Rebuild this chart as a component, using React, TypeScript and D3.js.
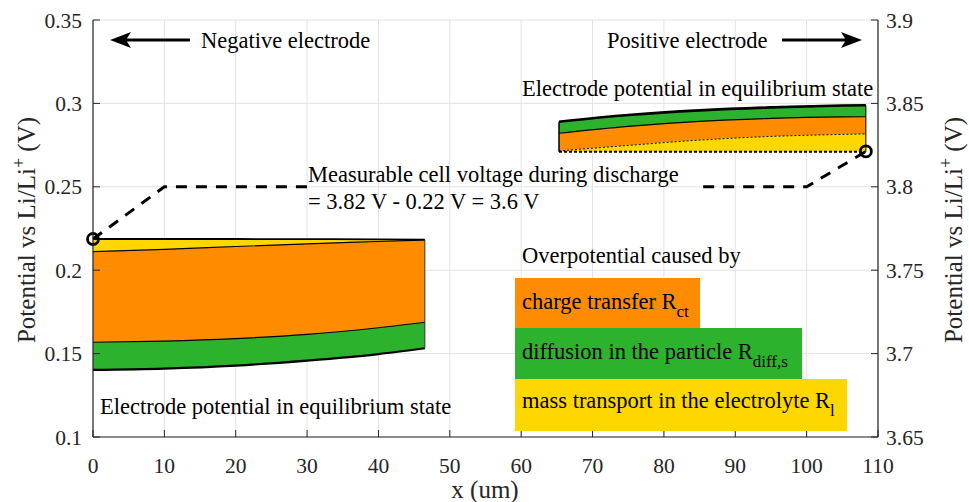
import React, { useEffect } from "react";
import * as d3 from "d3";

// ---- data ----
const xTicks = [0, 10, 20, 30, 40, 50, 60, 70, 80, 90, 100, 110];
const leftTicks = [0.1, 0.15, 0.2, 0.25, 0.3, 0.35];
const rightTicks = [3.65, 3.7, 3.75, 3.8, 3.85, 3.9];
const leftTickLabels = ["0.1", "0.15", "0.2", "0.25", "0.3", "0.35"];
const rightTickLabels = ["3.65", "3.7", "3.75", "3.8", "3.85", "3.9"];

// negative electrode band (left axis)
const leftX = [0, 10, 20, 30, 40, 46.5];
const leftTop = [0.2187, 0.2187, 0.2187, 0.2186, 0.2185, 0.2183];
const leftYO = [0.2111, 0.2125, 0.2142, 0.2158, 0.2172, 0.2181];
const leftOG = [0.1568, 0.1575, 0.159, 0.1615, 0.1655, 0.1688];
const leftBottom = [0.1402, 0.141, 0.1428, 0.1458, 0.1497, 0.1532];

// positive electrode band (right axis)
const rightX = [65.3, 75, 85, 95, 105, 108.3];
const rightTop = [3.839, 3.843, 3.8458, 3.8476, 3.8487, 3.8489];
const rightGO = [3.8321, 3.8362, 3.8392, 3.841, 3.8419, 3.842];
const rightOY = [3.8215, 3.8248, 3.828, 3.8302, 3.8314, 3.8317];
const rightBottom = [3.821, 3.821, 3.821, 3.821, 3.821, 3.821];

// measurable cell voltage dashed line (left axis units)
const cellX1 = [0, 10, 30];
const cellY1 = [0.2187, 0.25, 0.25];
const cellX2 = [85.5, 100, 108.3];
const cellY2 = [0.25, 0.25, 0.2712];

const ORANGE = "#FF8C00";
const GREEN = "#2DB22D";
const YELLOW = "#FFD700";
const FONT = "'Liberation Serif', 'DejaVu Serif', serif";

const W = 969;
const H = 502;
const x = d3.scaleLinear().domain([0, 110]).range([93, 878]);
const yL = d3.scaleLinear().domain([0.1, 0.35]).range([437, 20]);
const yR = d3.scaleLinear().domain([3.65, 3.9]).range([437, 20]);

function zip(xs: number[], ys: number[]) {
  return xs.map((v, i) => [v, ys[i]] as [number, number]);
}

function band(xs: number[], lo: number[], hi: number[], y: d3.ScaleLinear<number, number>) {
  const a = d3
    .area<number>()
    .x((i) => x(xs[i]))
    .y0((i) => y(lo[i]))
    .y1((i) => y(hi[i]))
    .curve(d3.curveMonotoneX);
  return a(xs.map((_, i) => i)) || "";
}

function line(xs: number[], ys: number[], y: d3.ScaleLinear<number, number>, curve: any = d3.curveMonotoneX) {
  const l = d3
    .line<[number, number]>()
    .x((d) => x(d[0]))
    .y((d) => y(d[1]))
    .curve(curve);
  return l(zip(xs, ys)) || "";
}

export default function App() {
  useEffect(() => {
    document.body.style.margin = "0";
  }, []);
  const tfs = 21.5; // tick labels
  const fs = 22.5; // annotations
  const afs = 25; // axis labels
  const sub = 17;
  const last = leftX.length - 1;
  const rlast = rightX.length - 1;
  return (
    <svg width={W} height={H} style={{ display: "block", background: "#fff" }} fontFamily={FONT}>
      {/* grid */}
      {xTicks.map((t) => (
        <line key={"gx" + t} x1={x(t)} x2={x(t)} y1={yL(0.35)} y2={yL(0.1)} stroke="#e3e3e3" strokeWidth={1} />
      ))}
      {leftTicks.map((t) => (
        <line key={"gy" + t} x1={x(0)} x2={x(110)} y1={yL(t)} y2={yL(t)} stroke="#e3e3e3" strokeWidth={1} />
      ))}

      {/* left band */}
      <path d={band(leftX, leftYO, leftTop, yL)} fill={YELLOW} />
      <path d={band(leftX, leftOG, leftYO, yL)} fill={ORANGE} />
      <path d={band(leftX, leftBottom, leftOG, yL)} fill={GREEN} />
      <path d={line(leftX, leftTop, yL)} fill="none" stroke="#000" strokeWidth={1.8} />
      <path d={line(leftX, leftYO, yL)} fill="none" stroke="#000" strokeWidth={1.2} />
      <path d={line(leftX, leftOG, yL)} fill="none" stroke="#000" strokeWidth={1.2} />
      <path d={line(leftX, leftBottom, yL)} fill="none" stroke="#000" strokeWidth={2.2} />
      <line x1={x(leftX[last])} x2={x(leftX[last])} y1={yL(leftTop[last])} y2={yL(leftBottom[last])} stroke="#333" strokeWidth={1} />

      {/* right band */}
      <path d={band(rightX, rightGO, rightTop, yR)} fill={GREEN} />
      <path d={band(rightX, rightOY, rightGO, yR)} fill={ORANGE} />
      <path d={band(rightX, rightBottom, rightOY, yR)} fill={YELLOW} />
      <path d={line(rightX, rightTop, yR)} fill="none" stroke="#000" strokeWidth={2.6} />
      <path d={line(rightX, rightGO, yR)} fill="none" stroke="#000" strokeWidth={1.1} />
      <path d={line(rightX, rightOY, yR)} fill="none" stroke="#000" strokeWidth={1} strokeDasharray="2 2" />
      <path d={line(rightX, rightBottom, yR)} fill="none" stroke="#000" strokeWidth={1.8} strokeDasharray="3 2" />
      <line x1={x(rightX[0])} x2={x(rightX[0])} y1={yR(rightTop[0])} y2={yR(rightBottom[0])} stroke="#000" strokeWidth={1.5} />
      <line x1={x(rightX[rlast])} x2={x(rightX[rlast])} y1={yR(rightTop[rlast])} y2={yR(rightBottom[rlast])} stroke="#000" strokeWidth={1} />

      {/* cell voltage dashed line */}
      <path d={line(cellX1, cellY1, yL, d3.curveLinear)} fill="none" stroke="#000" strokeWidth={3} strokeDasharray="11 9" />
      <path d={line(cellX2, cellY2, yL, d3.curveLinear)} fill="none" stroke="#000" strokeWidth={3} strokeDasharray="11 9" />
      <circle cx={x(cellX1[0])} cy={yL(cellY1[0])} r={5.5} fill="none" stroke="#000" strokeWidth={2.8} />
      <circle cx={x(cellX2[2])} cy={yL(cellY2[2])} r={5.5} fill="none" stroke="#000" strokeWidth={2.8} />

      {/* axes */}
      <line x1={x(0)} x2={x(0)} y1={yL(0.35)} y2={yL(0.1)} stroke="#262626" strokeWidth={1.2} />
      <line x1={x(110)} x2={x(110)} y1={yR(3.9)} y2={yR(3.65)} stroke="#262626" strokeWidth={1.2} />
      <line x1={x(0)} x2={x(110)} y1={yL(0.1)} y2={yL(0.1)} stroke="#262626" strokeWidth={1.2} />
      {xTicks.map((t) => (
        <g key={"xt" + t}>
          <line x1={x(t)} x2={x(t)} y1={yL(0.1)} y2={yL(0.1) - 7} stroke="#262626" strokeWidth={1} />
          <text x={x(t)} y={473} fontSize={tfs} textAnchor="middle" fill="#262626">
            {t}
          </text>
        </g>
      ))}
      {leftTicks.map((t, i) => (
        <g key={"lt" + t}>
          <line x1={x(0)} x2={x(0) + 7} y1={yL(t)} y2={yL(t)} stroke="#262626" strokeWidth={1} />
          <text x={82} y={yL(t) + 7.5} fontSize={tfs} textAnchor="end" fill="#262626">
            {leftTickLabels[i]}
          </text>
        </g>
      ))}
      {rightTicks.map((t, i) => (
        <g key={"rt" + t}>
          <line x1={x(110)} x2={x(110) - 7} y1={yR(t)} y2={yR(t)} stroke="#262626" strokeWidth={1} />
          <text x={886} y={yR(t) + 7.5} fontSize={tfs} textAnchor="start" fill="#262626">
            {rightTickLabels[i]}
          </text>
        </g>
      ))}

      {/* axis labels */}
      <text x={485} y={498} fontSize={afs} textAnchor="middle" fill="#262626">
        x (um)
      </text>
      <text transform="translate(35,230) rotate(-90)" fontSize={afs} textAnchor="middle" fill="#262626">
        Potential vs Li/Li<tspan fontSize={18} dy={-10}>+</tspan>
        <tspan dy={10}> (V)</tspan>
      </text>
      <text transform="translate(962,230) rotate(-90)" fontSize={afs} textAnchor="middle" fill="#262626">
        Potential vs Li/Li<tspan fontSize={18} dy={-10}>+</tspan>
        <tspan dy={10}> (V)</tspan>
      </text>

      {/* arrows */}
      <line x1={190} x2={124} y1={40} y2={40} stroke="#000" strokeWidth={3.2} />
      <path d="M110,40 L131,32 L126,40 L131,48 Z" fill="#000" />
      <text x={201} y={48} fontSize={fs} fill="#000">Negative electrode</text>
      <line x1={782} x2={848} y1={40} y2={40} stroke="#000" strokeWidth={3.2} />
      <path d="M862,40 L841,32 L846,40 L841,48 Z" fill="#000" />
      <text x={607} y={48} fontSize={fs} fill="#000">Positive electrode</text>

      {/* annotations */}
      <text x={522} y={96} fontSize={fs} fill="#000">Electrode potential in equilibrium state</text>
      <text x={100} y={414} fontSize={fs} fill="#000">Electrode potential in equilibrium state</text>
      <text x={308} y={182} fontSize={fs} fill="#000">Measurable cell voltage during discharge</text>
      <text x={308} y={209} fontSize={fs} fill="#000"> = 3.82 V - 0.22 V = 3.6 V</text>

      {/* legend */}
      <text x={522} y={263} fontSize={fs} fill="#000">Overpotential caused by</text>
      <rect x={515} y={278} width={185} height={50} fill={ORANGE} />
      <rect x={515} y={328} width={287} height={51} fill={GREEN} />
      <rect x={515} y={379} width={332} height={52} fill={YELLOW} />
      <text x={522} y={309} fontSize={fs} fill="#000">
        charge transfer R<tspan fontSize={sub} dy={8}>ct</tspan>
      </text>
      <text x={522} y={359} fontSize={fs} fill="#000">
        diffusion in the particle R<tspan fontSize={sub} dy={8}>diff,s</tspan>
      </text>
      <text x={522} y={408} fontSize={fs} fill="#000">
        mass transport in the electrolyte R<tspan fontSize={sub} dy={8}>l</tspan>
      </text>
    </svg>
  );
}
